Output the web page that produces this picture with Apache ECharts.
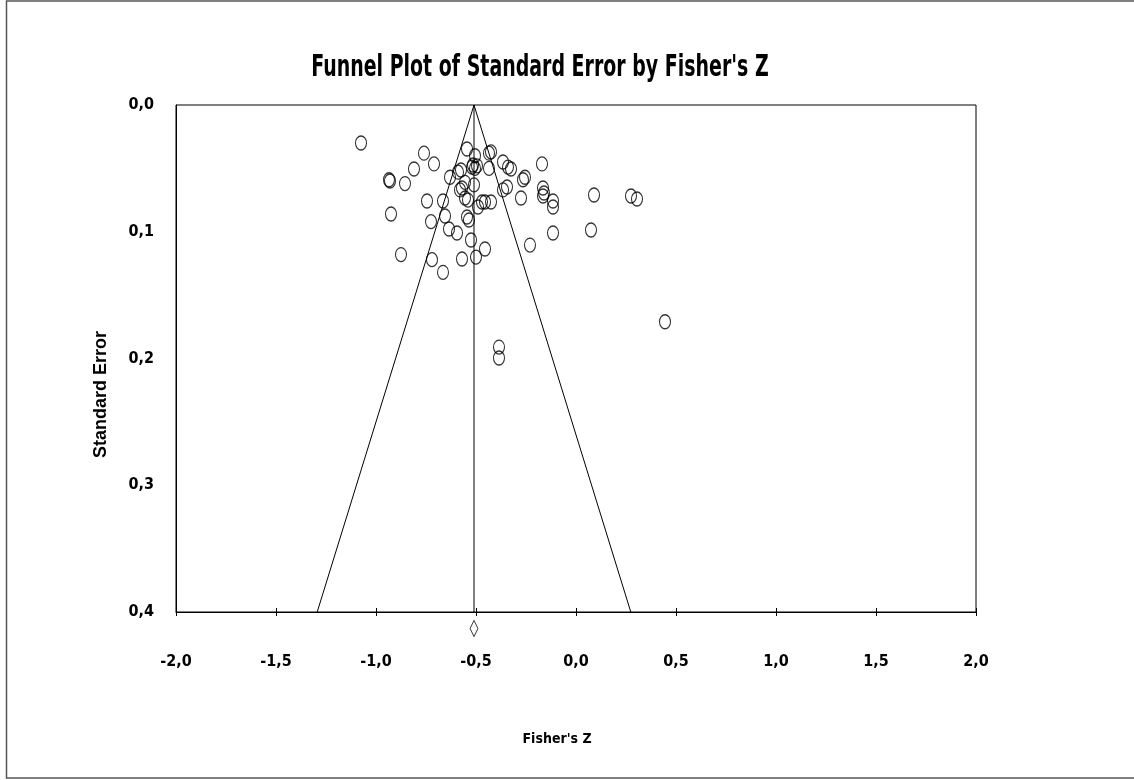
<!DOCTYPE html>
<html>
<head>
<meta charset="utf-8">
<script src="https://cdn.jsdelivr.net/npm/echarts@6/dist/echarts.min.js"></script>
<style>
  html, body { margin: 0; padding: 0; background: #fff; }
  #chart { width: 1134px; height: 780px; }
</style>
</head>
<body>
<div id="chart"></div>
<script>
// studies: Fisher's Z and its standard error
var fisherZ = [
  -1.075, -0.76, -0.71, -0.81, -0.935, -0.93, -0.855, -0.745, -0.665, -0.925,
  -0.725, -0.655, -0.635, -0.595, -0.875, -0.72, -0.665, -0.57, -0.50, -0.455,
  -0.525, -0.545, -0.505, -0.515, -0.495, -0.52, -0.505, -0.59, -0.575, -0.63,
  -0.555, -0.51, -0.58, -0.57, -0.54, -0.555, -0.545, -0.535, -0.49, -0.435,
  -0.425, -0.435, -0.365, -0.34, -0.325, -0.365, -0.345, -0.47, -0.455, -0.425,
  -0.275, -0.265, -0.255, -0.17, -0.165, -0.16, -0.165, -0.115, -0.115, -0.115,
  -0.23, 0.09, 0.275, 0.305, 0.075, 0.445, -0.385, -0.385
];
var stdErr = [
  0.030, 0.038, 0.0465, 0.0505, 0.059, 0.060, 0.062, 0.0757, 0.0757, 0.086,
  0.092, 0.0876, 0.0978, 0.101, 0.118, 0.122, 0.132, 0.1215, 0.120, 0.1136,
  0.1065, 0.0347, 0.040, 0.0473, 0.048, 0.049, 0.050, 0.053, 0.0513, 0.057,
  0.061, 0.063, 0.067, 0.0655, 0.075, 0.0734, 0.0884, 0.0907, 0.0805, 0.038,
  0.037, 0.050, 0.045, 0.049, 0.0505, 0.067, 0.0647, 0.0765, 0.0765, 0.0765,
  0.0734, 0.059, 0.057, 0.0465, 0.0655, 0.0694, 0.0718, 0.0757, 0.0805, 0.101,
  0.1105, 0.071, 0.0718, 0.0742, 0.0986, 0.171, 0.191, 0.1996
];
var pooledZ = -0.51;
var maxSE = 0.4;
var diamondSE = 0.413;   // where the pooled diamond sits, below the axis
var xTicks = [-2, 2, 0.5];
var yTicks = [0, 0.4, 0.1];

var points = fisherZ.map(function (z, i) { return [z, stdErr[i]]; });
var funnel = [[pooledZ - 1.96 * maxSE, maxSE], [pooledZ, 0], [pooledZ + 1.96 * maxSE, maxSE]];
var centre = [[pooledZ, 0], [pooledZ, maxSE]];

function comma(v) { return v.toFixed(1).replace('.', ','); }

var narrow = "'Liberation Sans Narrow', 'DejaVu Sans Condensed', sans-serif";

var chart = echarts.init(document.getElementById('chart'));
var option = {
  animation: false,
  backgroundColor: '#fff',
  graphic: [
    {
      type: 'rect',
      shape: { x: 6.5, y: 1, width: 1140, height: 777 },
      style: { fill: null, stroke: '#555', lineWidth: 1.5 },
      silent: true
    },
    {
      // title, squeezed like the narrow face of the original
      type: 'text',
      x: 540, y: 68,
      scaleX: 0.68,
      silent: true,
      style: {
        text: "Funnel Plot of Standard Error by Fisher's Z",
        textAlign: 'center', textVerticalAlign: 'middle',
        fontFamily: narrow, fontWeight: 'bold', fontSize: 31, fill: '#000'
      }
    }
  ],
  grid: {
    left: 176, right: 158, top: 105, bottom: 168,
    show: true, borderColor: '#000', borderWidth: 1, backgroundColor: 'transparent'
  },
  xAxis: [
    {
      type: 'value',
      min: xTicks[0], max: xTicks[1], interval: xTicks[2],
      name: "Fisher's Z",
      nameLocation: 'middle',
      nameGap: 120,
      nameTextStyle: { fontFamily: narrow, fontWeight: 'bold', fontSize: 14, color: '#000', padding: [0, 38, 0, 0] },
      axisLine: { onZero: false, lineStyle: { color: '#000', width: 1 } },
      axisTick: { show: true, length: 4, lineStyle: { color: '#000' } },
      axisLabel: { formatter: comma, margin: 42, fontFamily: narrow, fontWeight: 'bold', fontSize: 16, color: '#000' },
      splitLine: { show: false }
    },
    {
      // inner half of the ticks, so they cross the axis line
      type: 'value',
      position: 'bottom',
      min: xTicks[0], max: xTicks[1], interval: xTicks[2],
      axisLine: { show: false, onZero: false },
      axisTick: { show: true, inside: true, length: 4, lineStyle: { color: '#000' } },
      axisLabel: { show: false },
      splitLine: { show: false }
    }
  ],
  yAxis: {
    type: 'value',
    inverse: true,
    min: yTicks[0], max: yTicks[1], interval: yTicks[2],
    name: 'Standard Error',
    nameLocation: 'middle',
    nameGap: 66,
    nameTextStyle: { fontFamily: "'Liberation Sans', Arial, sans-serif", fontWeight: 'bold', fontSize: 18, color: '#000', padding: [0, 72, 0, 0] },
    axisLine: { onZero: false, lineStyle: { color: '#000', width: 1 } },
    axisTick: { show: false },
    axisLabel: { formatter: comma, margin: 22, fontFamily: narrow, fontWeight: 'bold', fontSize: 16, color: '#000' },
    splitLine: { show: false }
  },
  series: [
    {
      type: 'line',
      data: funnel,
      symbol: 'none',
      silent: true,
      lineStyle: { color: '#000', width: 1 }
    },
    {
      type: 'line',
      data: centre,
      symbol: 'none',
      silent: true,
      lineStyle: { color: '#000', width: 1 }
    },
    {
      type: 'scatter',
      data: points,
      symbol: 'circle',
      symbolSize: [11, 14],
      itemStyle: { color: 'rgba(0,0,0,0)', borderColor: '#000', borderWidth: 1.2 }
    },
    {
      type: 'scatter',
      data: [[pooledZ, diamondSE]],
      clip: false,
      symbol: 'diamond',
      symbolSize: [8, 16],
      itemStyle: { color: '#fff', borderColor: '#000', borderWidth: 1 }
    }
  ]
};
chart.setOption(option);
</script>
</body>
</html>
